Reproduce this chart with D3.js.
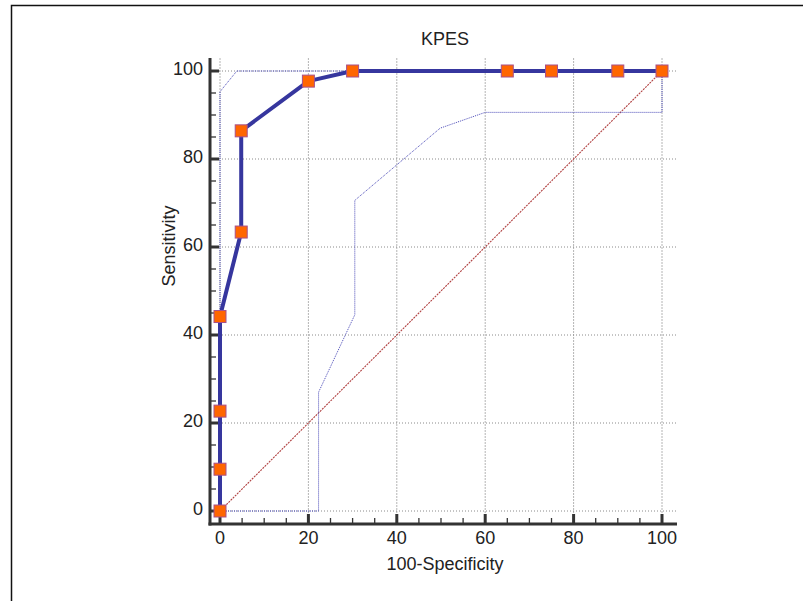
<!DOCTYPE html>
<meta charset="utf-8">
<script src="https://d3js.org/d3.v7.min.js"></script>
<style>
  body { margin: 0; background: #fff; }
  text { font-family: "Liberation Sans", Arial, sans-serif; fill: #222; }
</style>
<div id="chart"></div>
<script>
  // ROC curve points (100-Specificity, Sensitivity)
  const rocX = [0, 0, 0, 0, 4.8, 4.8, 20, 30, 65, 75, 90, 100];
  const rocY = [0, 9.5, 22.7, 44.2, 63.4, 86.4, 97.7, 100, 100, 100, 100, 100];

  // confidence bounds
  const upperX = [0, 0, 3.8, 100];
  const upperY = [0, 95.3, 100, 100];
  const lowerX = [0, 22.3, 22.3, 30.5, 30.5, 49.8, 60, 100, 100];
  const lowerY = [0, 0, 27, 44.6, 70.6, 87, 90.6, 90.6, 100];

  const ticks = [0, 20, 40, 60, 80, 100];
  const minorTicks = d3.range(0, 101, 5).filter(d => d % 20 !== 0);

  const W = 803, H = 601;
  const svg = d3.select("#chart").append("svg")
    .attr("width", W).attr("height", H);

  // outer frame
  svg.append("rect")
    .attr("x", 11.5).attr("y", 5.5)
    .attr("width", 820).attr("height", 620)
    .attr("fill", "none").attr("stroke", "#111").attr("stroke-width", 1.5);

  const x = d3.scaleLinear().domain([0, 100]).range([220, 662]);
  const y = d3.scaleLinear().domain([0, 100]).range([511, 71]);

  const axisX = 210, axisY = 524;
  const gridRight = 677, gridTop = 58;

  // grid
  svg.append("g").selectAll("line")
    .data(ticks)
    .join("line")
      .attr("x1", d => x(d)).attr("x2", d => x(d))
      .attr("y1", gridTop).attr("y2", axisY)
      .attr("stroke", "#b4b4b4").attr("stroke-width", 1)
      .attr("stroke-dasharray", "2,1");
  svg.append("g").selectAll("line")
    .data(ticks)
    .join("line")
      .attr("x1", axisX).attr("x2", gridRight)
      .attr("y1", d => y(d)).attr("y2", d => y(d))
      .attr("stroke", "#8a8a8a").attr("stroke-width", 1)
      .attr("stroke-dasharray", "1,2");

  // axis lines
  svg.append("line")
    .attr("x1", axisX).attr("x2", axisX)
    .attr("y1", gridTop).attr("y2", axisY + 1.5)
    .attr("stroke", "#333").attr("stroke-width", 3);
  svg.append("line")
    .attr("x1", axisX - 1.5).attr("x2", gridRight)
    .attr("y1", axisY).attr("y2", axisY)
    .attr("stroke", "#333").attr("stroke-width", 3);

  // y ticks
  svg.append("g").selectAll("line")
    .data(ticks)
    .join("line")
      .attr("x1", axisX).attr("x2", axisX + 9)
      .attr("y1", d => y(d)).attr("y2", d => y(d))
      .attr("stroke", "#333").attr("stroke-width", 3);
  svg.append("g").selectAll("line")
    .data(minorTicks)
    .join("line")
      .attr("x1", axisX).attr("x2", axisX + 6)
      .attr("y1", d => y(d)).attr("y2", d => y(d))
      .attr("stroke", "#333").attr("stroke-width", 1.3);

  // x ticks
  svg.append("g").selectAll("line")
    .data(ticks)
    .join("line")
      .attr("x1", d => x(d)).attr("x2", d => x(d))
      .attr("y1", axisY).attr("y2", axisY - 10)
      .attr("stroke", "#333").attr("stroke-width", 3);
  svg.append("g").selectAll("line")
    .data(minorTicks)
    .join("line")
      .attr("x1", d => x(d)).attr("x2", d => x(d))
      .attr("y1", axisY).attr("y2", axisY - 6)
      .attr("stroke", "#333").attr("stroke-width", 1.3);

  // tick labels
  svg.append("g").selectAll("text")
    .data(ticks)
    .join("text")
      .attr("x", 203).attr("y", d => y(d) + 4)
      .attr("text-anchor", "end")
      .style("font-size", "18px")
      .text(d => d);
  svg.append("g").selectAll("text")
    .data(ticks)
    .join("text")
      .attr("x", d => x(d)).attr("y", 544)
      .attr("text-anchor", "middle")
      .style("font-size", "18px")
      .text(d => d);

  // titles
  svg.append("text")
    .attr("x", 445).attr("y", 45)
    .attr("text-anchor", "middle")
    .style("font-size", "18px")
    .text("KPES");
  svg.append("text")
    .attr("x", 445).attr("y", 570)
    .attr("text-anchor", "middle")
    .style("font-size", "18px")
    .text("100-Specificity");
  svg.append("text")
    .attr("transform", "translate(175,246) rotate(-90)")
    .attr("text-anchor", "middle")
    .style("font-size", "18px")
    .text("Sensitivity");

  const line = d3.line().x(d => x(d[0])).y(d => y(d[1]));

  // diagonal reference
  svg.append("path")
    .datum([[0, 0], [100, 100]])
    .attr("d", line)
    .attr("fill", "none").attr("stroke", "#b04040")
    .attr("stroke-width", 1.1).attr("stroke-dasharray", "2,1");

  // confidence bounds
  [[upperX, upperY], [lowerX, lowerY]].forEach(([xs, ys]) => {
    svg.append("path")
      .datum(xs.map((v, i) => [v, ys[i]]))
      .attr("d", line)
      .attr("fill", "none").attr("stroke", "#4a4ab8")
      .attr("stroke-width", 1).attr("stroke-dasharray", "1,1");
  });

  // ROC curve
  const roc = rocX.map((v, i) => [v, rocY[i]]);
  svg.append("path")
    .datum(roc)
    .attr("d", line)
    .attr("fill", "none").attr("stroke", "#36369e")
    .attr("stroke-width", 4).attr("stroke-linejoin", "round");

  const s = 12;
  svg.append("g").selectAll("rect")
    .data(roc)
    .join("rect")
      .attr("x", d => x(d[0]) - s / 2).attr("y", d => y(d[1]) - s / 2)
      .attr("width", s).attr("height", s)
      .attr("fill", "#ff6600").attr("stroke", "#a8508a").attr("stroke-width", 1);
</script>
